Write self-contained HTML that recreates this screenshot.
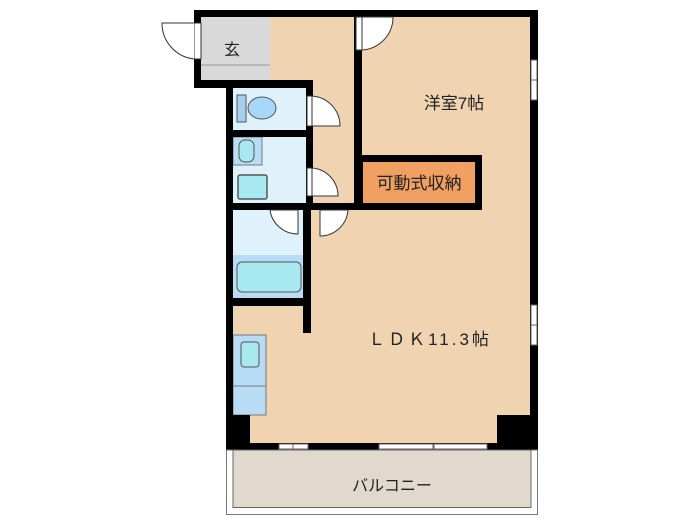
<!DOCTYPE html>
<html><head><meta charset="utf-8"><style>
body{margin:0;background:#fff;width:700px;height:525px;overflow:hidden}
svg text{font-family:"Liberation Sans","Noto Sans CJK JP",sans-serif}
</style></head><body>
<svg width="700" height="525" viewBox="0 0 700 525" xmlns="http://www.w3.org/2000/svg">
<rect x="201" y="17" width="69" height="63" fill="#d9d9d9"/>
<line x1="201" y1="65" x2="270" y2="65" stroke="#999" stroke-width="1"/>
<rect x="270" y="17" width="86" height="193" fill="#f0d4b2"/>
<rect x="362" y="17" width="168" height="193" fill="#f0d4b2"/>
<rect x="233" y="210" width="297" height="235" fill="#f0d4b2"/>
<rect x="233" y="88" width="73" height="42" fill="#dff2fc"/>
<rect x="233" y="137" width="73" height="66" fill="#dff2fc"/>
<rect x="233" y="210" width="70" height="88" fill="#dff2fc"/>
<rect x="237" y="95" width="9" height="27" fill="#a8cff0" stroke="#555" stroke-width="1"/>
<ellipse cx="262" cy="108" rx="14" ry="11" fill="#a8d8f8" stroke="#555" stroke-width="1"/>
<rect x="233" y="137" width="29" height="28" fill="#b8dcf5" stroke="#777" stroke-width="1"/>
<rect x="239" y="140" width="15" height="22" rx="6" fill="#a8e8f0" stroke="#555" stroke-width="1"/>
<rect x="238" y="175" width="29" height="24" rx="2" fill="#a8e8f0" stroke="#555" stroke-width="1.5"/>
<rect x="233" y="255" width="70" height="43" fill="#b8dcf5"/>
<rect x="237" y="262" width="64" height="30" rx="5" fill="#a8e8f0" stroke="#555" stroke-width="1"/>
<rect x="233" y="335" width="33" height="80" fill="#b8dcf5" stroke="#777" stroke-width="1"/>
<line x1="233" y1="386" x2="266" y2="386" stroke="#777"/>
<rect x="241" y="342" width="18" height="25" rx="3" fill="#a8e8f0" stroke="#555" stroke-width="1"/>
<rect x="358" y="155" width="124" height="55" fill="#000"/>
<rect x="363" y="162" width="112" height="41" fill="#f0a060"/>
<text x="419" y="189" font-size="17" text-anchor="middle" fill="#222">可動式収納</text>
<g fill="#000">
<rect x="194" y="10" width="344" height="7"/>
<rect x="194" y="10" width="7" height="78"/>
<rect x="194" y="80" width="119" height="8"/>
<rect x="530" y="10" width="8" height="440"/>
<rect x="226" y="80" width="7" height="370"/>
<rect x="354" y="17" width="8" height="193"/>
<rect x="306" y="80" width="7" height="130"/>
<rect x="226" y="130" width="87" height="7"/>
<rect x="226" y="203" width="256" height="7"/>
<rect x="303" y="203" width="8" height="130"/>
<rect x="226" y="298" width="85" height="8"/>
<rect x="226" y="415" width="24" height="35"/>
<rect x="497" y="415" width="41" height="35"/>
<rect x="226" y="443" width="312" height="7"/>
</g>
<g fill="#fff" stroke="#666" stroke-width="1">
<rect x="279" y="444" width="14" height="5"/><rect x="293" y="444" width="15" height="5"/>
<rect x="379" y="444" width="54" height="5"/>
<rect x="434" y="444" width="53" height="5"/>
<rect x="531" y="60" width="6" height="20"/><rect x="531" y="80" width="6" height="20"/>
<rect x="531" y="305" width="6" height="20"/><rect x="531" y="325" width="6" height="20"/>
</g>
<g fill="#fff" stroke="#333" stroke-width="1">
<rect x="194" y="23" width="7" height="36"/>
<path d="M194 59 A36 36 0 0 1 162 23 L194 23" fill="#fff"/>
<rect x="356" y="17" width="6" height="33"/>
<path d="M362 50 A33 33 0 0 0 393 17 L362 17Z"/>
<rect x="307" y="96" width="5" height="30"/>
<path d="M312 96 A30 30 0 0 1 340 126 L312 126Z"/>
<rect x="307" y="168" width="5" height="28"/>
<path d="M312 168 A28 28 0 0 1 338 196 L312 196Z"/>
<path d="M298 210 L270 210 A28 28 0 0 0 298 234Z"/>
<path d="M320 210 L348 210 A28 28 0 0 1 320 236Z"/>
</g>
<rect x="226.5" y="450" width="311" height="64.5" fill="#fff" stroke="#777" stroke-width="1"/>
<rect x="233" y="450" width="298" height="57.5" fill="#e2d9ce" stroke="#666" stroke-width="1"/>
<text x="392" y="491" font-size="16" text-anchor="middle" fill="#222">バルコニー</text>
<text x="232" y="55" font-size="16" text-anchor="middle" fill="#222">玄</text>
<text x="454" y="109" font-size="17" text-anchor="middle" fill="#222">洋室7帖</text>
<text x="430" y="345" font-size="17" text-anchor="middle" fill="#222" letter-spacing="3">ＬＤＫ11.3帖</text>
</svg>
</body></html>
